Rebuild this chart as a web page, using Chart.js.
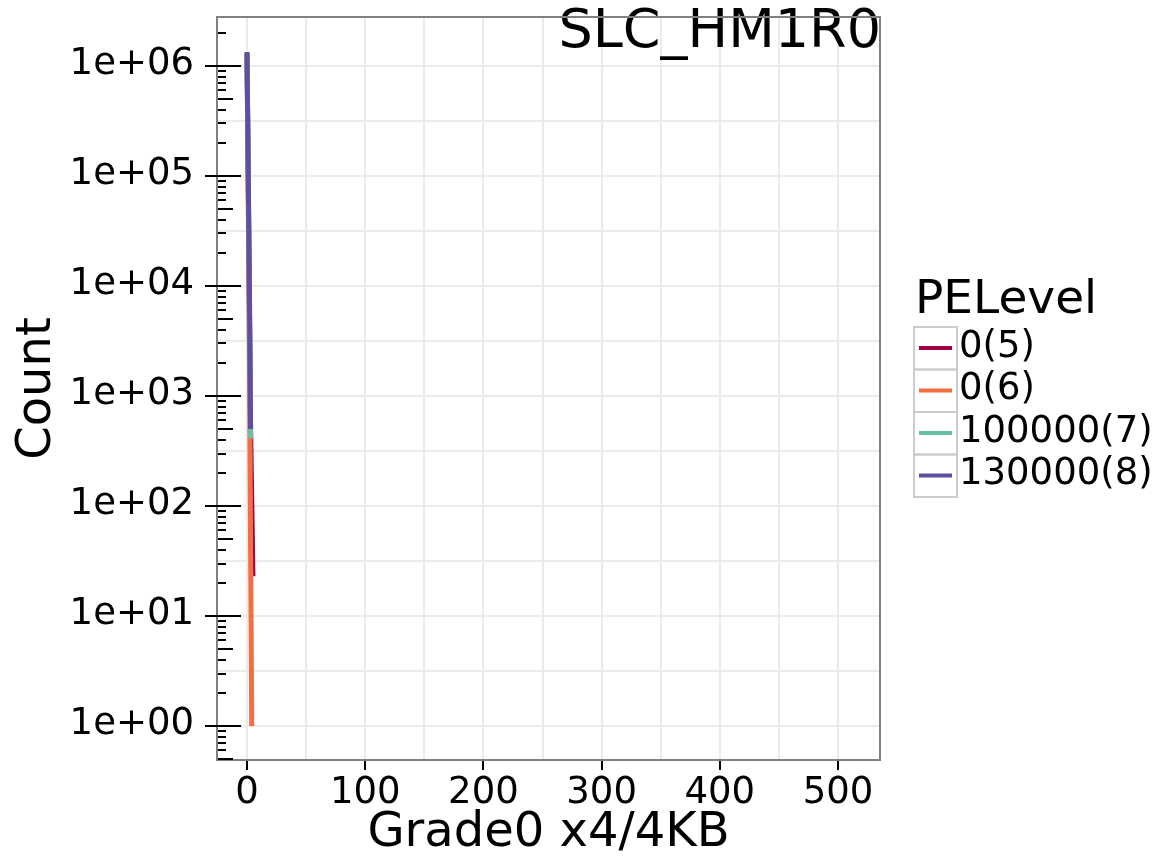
<!DOCTYPE html>
<html>
<head>
<meta charset="utf-8">
<script src="https://cdn.jsdelivr.net/npm/chart.js@4"></script>
<style>
  body { margin: 0; background: #fff; }
  #wrap { width: 1165px; height: 860px; }
</style>
</head>
<body>
<div id="wrap"><canvas id="grafico" width="1165" height="860"></canvas></div>
<script>
// Dados (Grade0 x4/4KB vs Count, escala log)
const seriesNames = ['0(5)', '0(6)', '100000(7)', '130000(8)'];
const seriesColors = ['#9E0142', '#F46D43', '#66C2A5', '#5E4FA2'];

const grade_5 = [0, 1, 2, 3, 4, 5];
const count_5 = [1300000, 95000, 7200, 550, 110, 23];

const grade_6 = [0, 1, 2, 3, 4];
const count_6 = [1300000, 60000, 2500, 45, 1];

const grade_7 = [0, 1, 2, 3];
const count_7 = [1300000, 110000, 9000, 410];

const grade_8 = [0, 1, 2, 3];
const count_8 = [1340000, 120000, 10000, 500];

// Eixos
const xGridValues = [0, 50, 100, 150, 200, 250, 300, 350, 400, 450, 500];
const xTickValues = [0, 100, 200, 300, 400, 500];
const xTickLabels = ['0', '100', '200', '300', '400', '500'];
const yTickValues = [1, 10, 100, 1000, 10000, 100000, 1000000];
const yTickLabels = ['1e+00', '1e+01', '1e+02', '1e+03', '1e+04', '1e+05', '1e+06'];
const plotTitle = 'SLC_HM1R0';
const legendTitle = 'PELevel';
const xTitle = 'Grade0 x4/4KB';
const yTitle = 'Count';

const FONTE = '"DejaVu Sans"';
Chart.defaults.font.family = FONTE;
Chart.defaults.color = '#000';

// monta os datasets a partir das listas
function montaSerie(xs, ys) {
    return xs.map((x, i) => ({ x: x, y: ys[i] }));
}
const seriesData = [
    montaSerie(grade_5, count_5),
    montaSerie(grade_6, count_6),
    montaSerie(grade_7, count_7),
    montaSerie(grade_8, count_8)
];
// ordem de desenho: a última série fica por cima
const drawOrder = [3, 2, 1, 0];

const datasets = seriesNames.map((nome, i) => ({
    label: nome,
    data: seriesData[i],
    borderColor: seriesColors[i],
    backgroundColor: seriesColors[i],
    borderWidth: 5,
    pointRadius: 0,
    tension: 0,
    fill: false,
    order: drawOrder[i]
}));

// linhas de grade do eixo y em meias décadas
const yGridValues = [];
for (let k = 0; k <= 12; k++) yGridValues.push(Math.pow(10, k / 2));

// Plugin: título, moldura, marcas do eixo y e legenda
const extrasPlugin = {
    id: 'extras',
    afterDatasetsDraw(chart) {
        const ctx = chart.ctx;
        const area = chart.chartArea;
        const yScale = chart.scales.y;

        ctx.save();
        // título do gráfico
        ctx.fillStyle = '#000';
        ctx.font = '54px ' + FONTE;
        ctx.textAlign = 'right';
        ctx.textBaseline = 'alphabetic';
        ctx.fillText(plotTitle, area.right + 1, 47);

        // moldura
        ctx.strokeStyle = '#808080';
        ctx.lineWidth = 2;
        ctx.strokeRect(area.left, area.top, area.right - area.left, area.bottom - area.top);

        // marcas maiores e menores do eixo y
        ctx.strokeStyle = '#000';
        ctx.lineWidth = 2;
        for (let n = -1; n <= 6; n++) {
            for (let m = 1; m <= 9; m++) {
                const v = m * Math.pow(10, n);
                if (v < yScale.min || v > yScale.max) continue;
                const py = Math.round(yScale.getPixelForValue(v));
                let x0 = area.left + 1, x1 = area.left + 9;
                if (m === 1) { x0 = area.left - 12; x1 = area.left + 24; }
                else if (m === 5) { x1 = area.left + 16; }
                ctx.beginPath();
                ctx.moveTo(x0, py);
                ctx.lineTo(x1, py);
                ctx.stroke();
            }
        }

        // legenda
        ctx.textAlign = 'left';
        ctx.font = '47px ' + FONTE;
        ctx.fillText(legendTitle, 915, 313);
        ctx.font = '37px ' + FONTE;
        ctx.textBaseline = 'middle';
        seriesNames.forEach((nome, i) => {
            const top = 327 + i * 42.5;
            ctx.strokeStyle = '#cccccc';
            ctx.lineWidth = 2;
            ctx.strokeRect(914, top, 43, 42.5);
            ctx.strokeStyle = seriesColors[i];
            ctx.lineWidth = 4;
            ctx.beginPath();
            ctx.moveTo(919, top + 21);
            ctx.lineTo(952, top + 21);
            ctx.stroke();
            ctx.fillStyle = '#000';
            ctx.fillText(nome, 959, top + 20);
        });
        ctx.restore();
    }
};

const ctx = document.getElementById('grafico').getContext('2d');
new Chart(ctx, {
    type: 'line',
    data: { datasets: datasets },
    options: {
        responsive: false,
        animation: false,
        events: [],
        layout: { padding: { top: 17, right: 285, left: 0, bottom: 0 } },
        plugins: {
            legend: { display: false },
            tooltip: { enabled: false }
        },
        scales: {
            x: {
                type: 'linear',
                min: -25.4,
                max: 535.5,
                afterBuildTicks: (scale) => {
                    scale.ticks = xGridValues.map(v => ({ value: v }));
                },
                afterFit: (scale) => {
                    scale.height = 100;
                    scale.paddingLeft = 0;
                    scale.paddingRight = 0;
                },
                border: { display: false },
                grid: {
                    color: '#ebebeb',
                    lineWidth: 2,
                    drawTicks: true,
                    tickLength: 10,
                    tickWidth: 2,
                    tickColor: (c) => (c.tick && xTickValues.includes(c.tick.value)) ? '#000' : 'rgba(0,0,0,0)'
                },
                ticks: {
                    autoSkip: false,
                    maxRotation: 0,
                    padding: 1,
                    font: { size: 37 },
                    callback: (value) => {
                        const i = xTickValues.indexOf(value);
                        return i >= 0 ? xTickLabels[i] : '';
                    }
                },
                title: {
                    display: true,
                    text: xTitle,
                    font: { size: 48, lineHeight: 1 },
                    padding: { top: 0, bottom: 2 }
                }
            },
            y: {
                type: 'logarithmic',
                min: 0.491,
                max: 2786000,
                afterBuildTicks: (scale) => {
                    scale.ticks = yGridValues.map(v => ({ value: v }));
                },
                afterFit: (scale) => {
                    scale.width = 217;
                    scale.paddingTop = 0;
                    scale.paddingBottom = 0;
                },
                border: { display: false },
                grid: {
                    color: '#ebebeb',
                    lineWidth: 2,
                    drawTicks: false
                },
                ticks: {
                    autoSkip: false,
                    padding: 23,
                    labelOffset: -2,
                    font: { size: 37 },
                    callback: (value) => {
                        const i = yTickValues.findIndex(v => Math.abs(v - value) / v < 1e-6);
                        return i >= 0 ? yTickLabels[i] : '';
                    }
                },
                title: {
                    display: true,
                    text: yTitle,
                    font: { size: 48 },
                    padding: { top: 9, bottom: 0 }
                }
            }
        }
    },
    plugins: [extrasPlugin]
});
</script>
</body>
</html>
